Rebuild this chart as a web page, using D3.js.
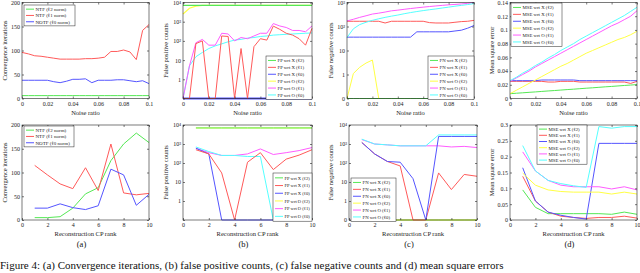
<!DOCTYPE html>
<html>
<head>
<meta charset="utf-8">
<script src="https://cdn.jsdelivr.net/npm/d3@7"></script>
<style>
  body { margin: 0; background: #fff; }
  svg { display: block; font-family: "Liberation Serif", "DejaVu Serif", serif; }
</style>
</head>
<body>
<svg id="fig" width="640" height="273"></svg>
<script>
// x values
const noiseRatio = [0, 0.005, 0.01, 0.015, 0.02, 0.025, 0.03, 0.035, 0.04, 0.045, 0.05,
  0.055, 0.06, 0.065, 0.07, 0.075, 0.08, 0.085, 0.09, 0.095, 0.1];
const cpRank = [1, 2, 3, 4, 5, 6, 7, 8, 9, 10];

// (a) convergence iterations vs noise ratio
const convNoiseL2 = [6, 6, 6, 6, 6, 6, 6, 6, 6, 6, 6, 6, 6, 6, 6, 6, 6, 6, 6, 6, 6];
const convNoiseL1 = [96, 93, 89, 88, 86, 84, 82, 82, 82, 82, 83, 83, 84, 86, 98, 98, 101, 97, 81, 142, 154];
const convNoiseL0 = [38, 38, 38, 38, 38, 35, 33, 36, 40, 40, 41, 33, 38, 38, 38, 39, 39, 37, 35, 37, 31];
// (a) convergence iterations vs CP rank
const convRankL2 = [5, 5, 7, 25, 55, 68, 125, 160, 183, 163];
const convRankL1 = [115, 95, 76, 66, 110, 62, 160, 57, 53, 56];
const convRankL0 = [25, 25, 34, 26, 22, 30, 107, 95, 31, 54];

// (b) false positives vs noise ratio
const fpNoiseXL2 = [7000, 7000, 7000, 7000, 7000, 7000, 7000, 7000, 7000, 7000, 7000, 7000, 7000, 7000, 7000, 7000, 7000, 7000, 7000, 7000, 7000];
const fpNoiseXL1 = [0, 0, 72, 100, 0, 0, 180, 170, 0, 40, 0, 50, 130, 110, 590, 400, 250, 200, 130, 60, 450];
const fpNoiseXL0 = [0, 0, 0, 0, 0, 0, 0, 0, 0, 0, 0, 0, 0, 0, 0, 0, 0, 0, 0, 0, 0];
const fpNoiseOL2 = [2500, 5000, 6500, 7000, 7000, 7000, 7000, 7000, 7000, 7000, 7000, 7000, 7000, 7000, 7000, 7000, 7000, 7000, 7000, 7000, 7000];
const fpNoiseOL1 = [0, 5, 80, 120, 60, 60, 250, 230, 100, 150, 130, 180, 250, 250, 800, 600, 500, 350, 350, 300, 600];
const fpNoiseOL0 = [0, 5, 15, 25, 40, 55, 70, 90, 110, 120, 140, 150, 170, 180, 200, 210, 220, 230, 240, 250, 260];
// (b) false positives vs CP rank
const fpRankXL2 = [7000, 7000, 7000, 7000, 7000, 7000, 7000, 7000, 7000, 7000];
const fpRankXL1 = [500, 300, 30, 0, 110, 350, 45, 160, 260, 500];
const fpRankXL0 = [600, 300, 0, 0, 0, 0, 0, 0, 0, 0];
const fpRankOL2 = [7000, 7000, 7000, 7000, 7000, 7000, 7000, 7000, 7000, 7000];
const fpRankOL1 = [600, 350, 250, 250, 300, 550, 280, 350, 450, 650];
const fpRankOL0 = [700, 400, 250, 250, 220, 220, 0, 0, 0, 0];

// (c) false negatives vs noise ratio
const fnNoiseXL2 = [0, 0, 0, 0, 0, 0, 0, 0, 0, 0, 0, 0, 0, 0, 0, 0, 0, 0, 0, 0, 0];
const fnNoiseXL1 = [165, 165, 165, 165, 165, 165, 140, 165, 165, 165, 165, 165, 165, 145, 140, 140, 140, 150, 160, 165, 180];
const fnNoiseXL0 = [36, 36, 36, 36, 36, 36, 36, 36, 36, 36, 36, 60, 60, 60, 60, 60, 60, 65, 70, 85, 110];
const fnNoiseOL2 = [0, 1.1, 2, 3, 4, 0, 0, 0, 0, 0, 0, 0, 0, 0, 0, 0, 0, 0, 0, 0, 0];
const fnNoiseOL1 = [170, 200, 240, 280, 330, 360, 400, 450, 480, 520, 560, 600, 640, 680, 720, 760, 800, 830, 870, 920, 1000];
const fnNoiseOL0 = [35, 80, 120, 150, 180, 210, 240, 270, 300, 340, 380, 420, 460, 500, 540, 590, 640, 700, 760, 820, 900];
// (c) false negatives vs CP rank
const fnRankXL2 = [0, 0, 0, 0, 0, 0, 0, 0, 0, 0];
const fnRankXL1 = [1200, 300, 120, 70, 0, 0, 30, 4, 25, 20];
const fnRankXL0 = [1200, 300, 120, 110, 15, 0, 2500, 2500, 2500, 2500];
const fnRankOL2 = [0, 0, 0, 0, 0, 0, 0, 0, 0, 0];
const fnRankOL1 = [1700, 1000, 900, 800, 800, 800, 800, 700, 750, 650];
const fnRankOL0 = [1800, 1000, 900, 800, 800, 800, 3000, 3000, 3000, 3000];

// (d) mean square error vs noise ratio
const mseNoiseXL2 = [0.007, 0.0077, 0.0083, 0.009, 0.0096, 0.0103, 0.011, 0.0116, 0.0123, 0.013, 0.0136, 0.0143, 0.015, 0.0156, 0.0163, 0.017, 0.0176, 0.0183, 0.019, 0.0196, 0.0203];
const mseNoiseXL1 = [0.025, 0.025, 0.025, 0.025, 0.025, 0.025, 0.024, 0.024, 0.025, 0.025, 0.025, 0.024, 0.024, 0.024, 0.024, 0.024, 0.024, 0.024, 0.024, 0.022, 0.025];
const mseNoiseXL0 = [0.026, 0.026, 0.026, 0.026, 0.026, 0.027, 0.027, 0.027, 0.027, 0.027, 0.027, 0.026, 0.026, 0.026, 0.026, 0.026, 0.026, 0.026, 0.026, 0.026, 0.026];
const mseNoiseOL2 = [0.007, 0.012, 0.017, 0.022, 0.027, 0.032, 0.037, 0.042, 0.047, 0.051, 0.056, 0.061, 0.066, 0.070, 0.074, 0.078, 0.082, 0.086, 0.089, 0.093, 0.098];
const mseNoiseOL1 = [0.025, 0.030, 0.035, 0.040, 0.046, 0.051, 0.056, 0.061, 0.066, 0.071, 0.076, 0.081, 0.086, 0.091, 0.096, 0.101, 0.106, 0.110, 0.115, 0.120, 0.128];
const mseNoiseOL0 = [0.026, 0.031, 0.037, 0.042, 0.048, 0.053, 0.059, 0.064, 0.070, 0.075, 0.080, 0.086, 0.091, 0.096, 0.101, 0.106, 0.111, 0.116, 0.121, 0.127, 0.133];
// (d) mean square error vs CP rank
const mseRankXL2 = [0.095, 0.04, 0.02, 0.02, 0.02, 0.02, 0.02, 0.018, 0.025, 0.018];
const mseRankXL1 = [0.138, 0.06, 0.025, 0.012, 0.008, 0.005, 0.008, 0.008, 0.012, 0.006];
const mseRankXL0 = [0.165, 0.06, 0.025, 0.015, 0.008, 0.003, 0.242, 0.242, 0.242, 0.242];
const mseRankOL2 = [0.148, 0.11, 0.095, 0.09, 0.088, 0.088, 0.088, 0.082, 0.088, 0.082];
const mseRankOL1 = [0.215, 0.155, 0.125, 0.11, 0.105, 0.105, 0.105, 0.098, 0.105, 0.095];
const mseRankOL0 = [0.235, 0.155, 0.125, 0.115, 0.108, 0.103, 0.295, 0.29, 0.295, 0.295];

// tick labels
const noiseTicks = [0, 0.02, 0.04, 0.06, 0.08, 0.1];
const rankTicks = [0, 2, 4, 6, 8, 10];
const convTicks = [0, 50, 100, 150, 200];
const mseNoiseTicks = [0, 0.02, 0.04, 0.06, 0.08, 0.1, 0.12, 0.14];
const mseRankTicks = [0, 0.05, 0.1, 0.15, 0.2, 0.25, 0.3];

const panelLetters = ["(a)", "(b)", "(c)", "(d)"];
const convNames = ["NTF (ℓ2 norm)", "NTF (ℓ1 norm)", "NOTF (ℓ0 norm)"];
const fpNames = ["FP wrt X (ℓ2)", "FP wrt X (ℓ1)", "FP wrt X (ℓ0)", "FP wrt O (ℓ2)", "FP wrt O (ℓ1)", "FP wrt O (ℓ0)"];
const fnNames = ["FN wrt X (ℓ2)", "FN wrt X (ℓ1)", "FN wrt X (ℓ0)", "FN wrt O (ℓ2)", "FN wrt O (ℓ1)", "FN wrt O (ℓ0)"];
const mseNames = ["MSE wrt X (ℓ2)", "MSE wrt X (ℓ1)", "MSE wrt X (ℓ0)", "MSE wrt O (ℓ2)", "MSE wrt O (ℓ1)", "MSE wrt O (ℓ0)"];

const colors = ["#55e855", "#ff5a5a", "#5555ff", "#ffff44", "#ff5cff", "#55ffff"];
const colors3 = ["#55e855", "#ff5a5a", "#5555ff"];

const svg = d3.select("#fig");

const sup = { "2": "²", "3": "³", "4": "⁴" };
function logLabel(v) {
  if (v === 0.1) return "0";
  if (v === 1) return "1";
  if (v === 10) return "10";
  const e = Math.round(Math.log10(v));
  return "10" + sup[e];
}

function drawPanel(p) {
  const g = svg.append("g");
  const x = d3.scaleLinear().domain(p.xDomain).range([p.x0, p.x1]);
  let y;
  if (p.log) {
    y = d3.scaleLog().domain(p.yDomain).range([p.y1, p.y0]).clamp(true);
  } else {
    y = d3.scaleLinear().domain(p.yDomain).range([p.y1, p.y0]);
  }
  const yv = (v) => p.log ? y(Math.max(v, 0.1)) : y(v);

  // lines
  const order = p.drawOrder || d3.range(p.series.length);
  order.forEach((i) => {
    const line = d3.line()
      .x((d, j) => x(p.xs[j]))
      .y((d) => yv(d));
    g.append("path")
      .attr("d", line(p.series[i]))
      .attr("fill", "none")
      .attr("stroke", p.colors[i])
      .attr("stroke-width", p.widths ? p.widths[i] : 1);
  });

  // frame
  g.append("rect")
    .attr("x", p.x0).attr("y", p.y0)
    .attr("width", p.x1 - p.x0).attr("height", p.y1 - p.y0)
    .attr("fill", "none").attr("stroke", "#222").attr("stroke-width", 0.6);

  const fmtX = p.xFormat || ((d) => d);
  g.append("g")
    .attr("transform", `translate(0,${p.y1})`)
    .call(d3.axisBottom(x).tickValues(p.xTicks).tickSize(-2).tickPadding(3).tickFormat(fmtX));
  g.append("g")
    .attr("transform", `translate(0,${p.y0})`)
    .call(d3.axisTop(x).tickValues(p.xTicks).tickSize(-2).tickFormat(""));

  const yTickFmt = p.log ? logLabel : (p.yFormat || ((d) => d));
  const yAxis = g.append("g")
    .attr("transform", `translate(${p.x0},0)`)
    .call(d3.axisLeft(y).tickValues(p.yTicks).tickSize(-2).tickPadding(2).tickFormat(yTickFmt));
  g.append("g")
    .attr("transform", `translate(${p.x1},0)`)
    .call(d3.axisRight(y).tickValues(p.yTicks).tickSize(-2).tickFormat(""));

  g.selectAll(".domain").remove();
  g.selectAll(".tick line").attr("stroke", "#222").attr("stroke-width", 0.6);
  g.selectAll(".tick text")
    .attr("fill", "#222")
    .style("font-family", "Liberation Serif, serif")
    .style("font-size", "6px");
  if (p.hideYTicks) {
    yAxis.selectAll(".tick text").filter((d) => p.hideYTicks.includes(d)).remove();
  }

  // axis titles
  g.append("text")
    .attr("x", (p.x0 + p.x1) / 2).attr("y", p.y1 + 16)
    .attr("text-anchor", "middle")
    .style("font-size", "6.5px").attr("fill", "#222")
    .text(p.xLabel);
  g.append("text")
    .attr("transform", `translate(${p.yLabelX},${(p.y0 + p.y1) / 2}) rotate(-90)`)
    .attr("text-anchor", "middle")
    .style("font-size", "6.5px").attr("fill", "#222")
    .text(p.yLabel);

  // legend
  const L = p.legend;
  const lg = g.append("g");
  lg.append("rect")
    .attr("x", L.x).attr("y", L.y).attr("width", L.w).attr("height", L.rowH * p.names.length + 2)
    .attr("fill", "#fff").attr("stroke", "#222").attr("stroke-width", 0.5);
  p.names.forEach((name, i) => {
    const cy = L.y + 1 + L.rowH * (i + 0.5);
    lg.append("line")
      .attr("x1", L.x + 2).attr("x2", L.x + 10)
      .attr("y1", cy).attr("y2", cy)
      .attr("stroke", p.colors[i]).attr("stroke-width", 1);
    lg.append("text")
      .attr("x", L.x + 11.5).attr("y", cy + 1.8)
      .style("font-size", L.fs + "px").attr("fill", "#222")
      .text(name);
  });

  if (p.letter) {
    g.append("text")
      .attr("x", (p.x0 + p.x1) / 2 - 4).attr("y", p.y1 + 27)
      .attr("text-anchor", "middle")
      .style("font-size", "8.5px").attr("fill", "#111")
      .text(p.letter);
  }
}

const topRow = { y0: 2.5, y1: 98.5, xs: noiseRatio, xDomain: [0, 0.1], xTicks: noiseTicks, xLabel: "Noise ratio" };
const botRow = { y0: 125, y1: 220, xs: cpRank, xDomain: [0, 10], xTicks: rankTicks, xLabel: "Reconstruction CP rank" };

drawPanel({ ...topRow, x0: 22, x1: 149, yDomain: [0, 200], yTicks: convTicks,
  series: [convNoiseL2, convNoiseL1, convNoiseL0], colors: colors3, names: convNames,
  yLabel: "Convergence iterations", yLabelX: 7,
  legend: { x: 24, y: 5, w: 51, rowH: 6.3, fs: 5 } });
drawPanel({ ...botRow, x0: 22, x1: 149, yDomain: [0, 200], yTicks: convTicks,
  series: [convRankL2, convRankL1, convRankL0], colors: colors3, names: convNames,
  yLabel: "Convergence iterations", yLabelX: 7, letter: panelLetters[0],
  legend: { x: 24, y: 126, w: 50, rowH: 6.3, fs: 5 } });

drawPanel({ ...topRow, x0: 183, x1: 312, log: true, yDomain: [0.1, 1e4], yTicks: [0.1, 1, 10, 100, 1000, 10000],
  hideYTicks: [0.1],
  series: [fpNoiseXL2, fpNoiseXL1, fpNoiseXL0, fpNoiseOL2, fpNoiseOL1, fpNoiseOL0], colors: colors, names: fpNames,
  drawOrder: [3, 0, 2, 5, 4, 1], widths: [1.2, 1, 2, 1.2, 1, 1],
  yLabel: "False positive counts", yLabelX: 168,
  legend: { x: 266, y: 56, w: 46, rowH: 6.9, fs: 4.8 } });
drawPanel({ ...botRow, x0: 183, x1: 312, log: true, yDomain: [0.1, 1e4], yTicks: [0.1, 1, 10, 100, 1000, 10000],
  hideYTicks: [0.1],
  series: [fpRankXL2, fpRankXL1, fpRankXL0, fpRankOL2, fpRankOL1, fpRankOL0], colors: colors, names: fpNames,
  drawOrder: [3, 0, 4, 5, 2, 1],
  yLabel: "False positive counts", yLabelX: 168, letter: panelLetters[1],
  legend: { x: 273, y: 173, w: 39, rowH: 7.7, fs: 4.6 } });

drawPanel({ ...topRow, x0: 347, x1: 474, log: true, yDomain: [0.1, 1e3], yTicks: [0.1, 1, 10, 100, 1000],
  series: [fnNoiseXL2, fnNoiseXL1, fnNoiseXL0, fnNoiseOL2, fnNoiseOL1, fnNoiseOL0], colors: colors, names: fnNames,
  drawOrder: [3, 0, 1, 2, 4, 5],
  yLabel: "False negative counts", yLabelX: 333,
  legend: { x: 428, y: 56, w: 46, rowH: 6.9, fs: 4.8 } });
drawPanel({ ...botRow, x0: 349, x1: 477, log: true, yDomain: [0.1, 1e4], yTicks: [0.1, 1, 10, 100, 1000, 10000],
  series: [fnRankXL2, fnRankXL1, fnRankXL0, fnRankOL2, fnRankOL1, fnRankOL0], colors: colors, names: fnNames,
  drawOrder: [0, 3, 1, 4, 2, 5],
  yLabel: "False negative counts", yLabelX: 333, letter: panelLetters[2],
  legend: { x: 351, y: 178, w: 45, rowH: 6.9, fs: 4.8 } });

drawPanel({ ...topRow, x0: 510, x1: 637, yDomain: [0, 0.14], yTicks: mseNoiseTicks,
  series: [mseNoiseXL2, mseNoiseXL1, mseNoiseXL0, mseNoiseOL2, mseNoiseOL1, mseNoiseOL0], colors: colors, names: mseNames,
  yLabel: "Mean square error", yLabelX: 494,
  legend: { x: 511, y: 3, w: 51, rowH: 6.9, fs: 4.8 } });
drawPanel({ ...botRow, x0: 510, x1: 637, yDomain: [0, 0.3], yTicks: mseRankTicks,
  series: [mseRankXL2, mseRankXL1, mseRankXL0, mseRankOL2, mseRankOL1, mseRankOL0], colors: colors, names: mseNames,
  yLabel: "Mean square error", yLabelX: 494, letter: panelLetters[3],
  legend: { x: 537, y: 125, w: 50, rowH: 6.2, fs: 4.8 } });

// caption along the bottom edge
svg.append("text")
  .attr("x", 0).attr("y", 269)
  .style("font-size", "11px").attr("fill", "#111")
  .text("Figure 4: (a) Convergence iterations, (b) false positive counts, (c) false negative counts and (d) mean square errors");
</script>
</body>
</html>
